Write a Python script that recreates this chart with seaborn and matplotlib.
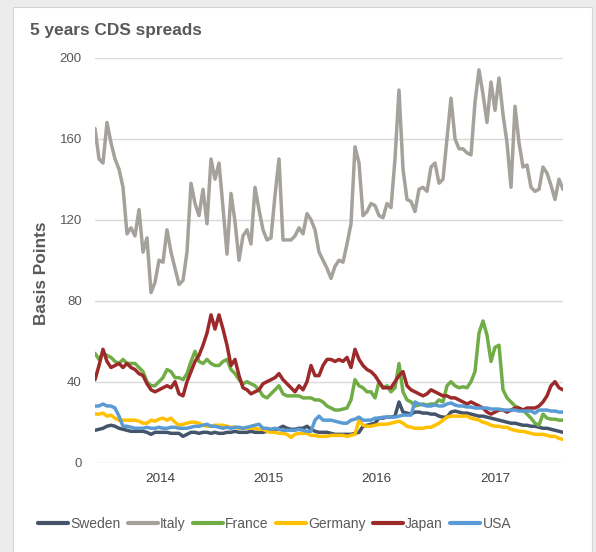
import matplotlib
matplotlib.use("Agg")
import matplotlib.pyplot as plt
from matplotlib.patches import Rectangle
import pandas as pd
import seaborn as sns

# 5-year CDS spreads (basis points), sampled roughly every two weeks, mid-2013 to mid-2017
countries = ["Sweden", "Italy", "France", "Germany", "Japan", "USA"]
line_colors = ["#44546a", "#a5a19b", "#70ad47", "#ffc000", "#9c2a2a", "#5b9bd5"]

sweden = [16, 16.5, 17, 18, 18.5, 18, 17, 16.5, 16, 15.5,
          15.5, 15.5, 15.5, 15, 14, 15, 15, 15, 15, 14.5,
          14.5, 14.5, 13, 14, 15, 15, 14.5, 15, 15, 14.5,
          15, 14.5, 14.5, 15, 15, 15.5, 15, 15, 15, 15.5,
          15, 15, 15, 15.5, 15.5, 16, 17, 18, 17, 16.5,
          16.5, 17, 17, 18, 16.5, 15.5, 15, 15, 15, 14.5,
          14, 14, 14, 14, 14, 14.5, 15, 18, 18.5, 19,
          19.5, 22, 22, 22.5, 22.5, 23, 30, 25, 24.5, 24,
          25, 25, 24.5, 24.5, 24, 24, 23, 22.5, 22.5, 25,
          25.5, 25, 24.5, 24.5, 24, 23.5, 23, 23, 22.5, 22,
          21.5, 21, 20.5, 20, 19.5, 19.5, 19, 18.5, 18.5, 18,
          18, 17.5, 17, 17, 16.5, 16, 15.5, 15]

italy = [165, 150, 148, 168, 158, 150, 145, 136, 113, 116,
         112, 125, 104, 111, 84, 89, 100, 99, 115, 104,
         96, 88, 90, 104, 138, 128, 122, 135, 118, 150,
         140, 148, 126, 103, 133, 119, 100, 112, 115, 108,
         136, 125, 115, 110, 111, 132, 150, 110, 110, 110,
         112, 116, 113, 123, 120, 115, 104, 100, 96, 91,
         97, 100, 99, 108, 118, 156, 148, 122, 124, 128,
         127, 122, 121, 128, 126, 150, 184, 145, 130, 129,
         124, 135, 136, 134, 146, 148, 138, 140, 160, 180,
         160, 155, 155, 153, 152, 178, 194, 182, 168, 188,
         174, 190, 172, 158, 136, 176, 158, 146, 147, 136,
         134, 135, 146, 143, 137, 130, 140, 135]

france = [54, 51, 54, 53, 52, 50, 49, 51, 49, 49,
          49, 47, 45, 40, 38, 38, 40, 42, 46, 45,
          42, 42, 41, 44, 50, 55, 50, 49, 51, 49,
          48, 48, 50, 51, 46, 44, 41, 39, 40, 39,
          38, 36, 33, 32, 34, 36, 38, 34, 33, 33,
          33, 33, 32, 32, 32, 31, 31, 30, 28, 27,
          26, 26, 26.5, 27, 31, 41, 38, 37, 35, 35,
          32, 40, 37, 38, 35, 37, 49, 35, 31, 30,
          28, 28.5, 29, 28.5, 29, 29, 31, 30, 38, 40,
          38, 37, 37.5, 37, 40, 45, 64, 70, 63, 50,
          57, 58, 36, 32, 30, 28, 27, 26, 24, 22,
          19.5, 18.5, 24, 22, 21.5, 21.5, 21, 21]

germany = [24, 24, 24.5, 23, 23.5, 22, 21, 21, 21, 21,
           21, 20.5, 19.5, 19.5, 21, 20.5, 21.5, 22, 21, 22,
           20, 18.5, 19, 19.5, 20, 20, 19.5, 18.5, 18, 18,
           18.5, 18.5, 18.5, 18, 17.5, 17.5, 17, 17, 17, 17,
           17, 16.5, 16.5, 15.5, 15, 15, 14.5, 14.5, 14, 12.5,
           14, 14.5, 14.5, 14.5, 13.5, 13.5, 13, 13, 13, 13.5,
           13.5, 13.5, 13.5, 13, 13.5, 14, 21, 18.5, 18, 18,
           18.5, 19, 19, 19, 19.5, 20, 20.5, 19.5, 18, 17.5,
           17, 17, 17, 17.5, 17.5, 18.5, 19.5, 21, 22.5, 23,
           23, 23, 23, 23, 22, 21.5, 21, 20, 19.5, 18.5,
           18, 18, 17.5, 17.5, 16.5, 16, 15.5, 15.5, 15, 14.5,
           14, 14, 14, 13.5, 13, 13, 12, 11.5]

japan = [41, 48, 56, 50, 47, 48, 49, 47, 49, 47,
         46, 44, 43, 39, 36, 35, 36, 37, 38, 37,
         40, 34, 33, 40, 45, 50, 53, 58, 64, 73,
         66, 73, 66, 58, 48, 51, 43, 37, 36, 34,
         35, 36, 39, 40, 41, 42, 44, 41, 39, 37,
         35, 38, 36, 40, 48, 43, 43, 48, 51, 51,
         50, 51, 50, 52, 47, 56, 51, 48, 46, 45,
         43, 40, 37, 37, 37, 40, 43, 45, 38, 36,
         35, 34, 33, 34, 36, 35, 34, 33, 33, 32,
         32, 31, 30, 29, 30, 29, 28, 27, 25, 24,
         25, 26, 26, 25, 26, 27, 27, 26, 27, 27,
         27, 28, 30, 33, 38, 40, 37, 36]

usa = [28, 28, 29, 28, 28, 27, 23, 18, 18, 17.5,
       17, 17, 17, 17.5, 17, 17, 17.5, 17, 17, 17.5,
       17.5, 17, 17, 17, 17.5, 18, 18, 18.5, 19, 18,
       18, 17.5, 17, 17.5, 17, 17.5, 17.5, 17, 17.5, 18,
       18.5, 19, 17, 17, 16.5, 17, 16.5, 16, 16, 16,
       16, 16.5, 16, 15.5, 15.5, 21, 23, 21, 21, 21,
       20.5, 20, 19.5, 19.5, 21, 21.5, 22.5, 21, 21, 21,
       22, 22, 22.5, 22.5, 22.5, 22.5, 23, 23.5, 23.5, 23.5,
       30, 29, 28.5, 28, 28, 28.5, 28, 28, 29, 29.5,
       28.5, 28, 28, 27.5, 27.5, 27, 27, 27, 27, 26.5,
       26.5, 26.5, 26, 26, 26, 26, 25.5, 25.5, 25.5, 25.5,
       24.5, 26, 26, 26, 25.5, 25.5, 25, 25]

# year labels and the observation index at which each one is placed
year_labels = ["2014", "2015", "2016", "2017"]
year_positions = [16.25, 43.25, 70.25, 100.0]
y_ticks = [0, 40, 80, 120, 160, 200]

series = dict(zip(countries, [sweden, italy, france, germany, japan, usa]))
frames = []
for name, vals in series.items():
    frames.append(pd.DataFrame({"obs": range(len(vals)), "spread": vals, "country": name}))
df = pd.concat(frames, ignore_index=True)

sns.set_theme(style="white")
plt.rcParams["font.family"] = ["Liberation Sans", "DejaVu Sans"]

W, H = 596, 552
fig = plt.figure(figsize=(W / 100, H / 100), dpi=100)
fig.patch.set_facecolor("#ececec")
card = Rectangle((13 / W, -0.01), (592 - 13) / W, 1 - 7 / H + 0.01,
                 transform=fig.transFigure, facecolor="white",
                 edgecolor="#d4d4d4", linewidth=0.8, zorder=-5)
fig.patches.append(card)

ax = fig.add_axes([95 / W, 1 - 462.7 / H, 468 / W, 405 / H])
ax.set_facecolor("white")

sns.lineplot(data=df, x="obs", y="spread", hue="country", hue_order=countries,
             palette=line_colors, linewidth=2.5, ax=ax,
             solid_joinstyle="round", solid_capstyle="round")

ax.set_xlim(0, len(italy) - 1)
ax.set_ylim(0, 200)
ax.set_yticks(y_ticks)
ax.set_xticks(year_positions)
ax.set_xticklabels(year_labels)
ax.set_xlabel("")
ax.set_ylabel("")
for s in ax.spines.values():
    s.set_visible(False)
ax.grid(axis="y", color="#d9d9d9", linewidth=1.0)
ax.grid(axis="x", visible=False)
ax.set_axisbelow(True)
ax.tick_params(axis="y", length=0, pad=9.5, labelsize=9.5, labelcolor="#595959")
ax.tick_params(axis="x", length=0, pad=7.5, labelsize=9.7, labelcolor="#404040")

handles, labels = ax.get_legend_handles_labels()
ax.get_legend().remove()
for h in handles:
    h.set_linewidth(3.0)
fig.legend(handles, labels, loc="center", bbox_to_anchor=(274.5 / W, 1 - 524 / H),
           ncol=6, frameon=False, fontsize=10.0, handlelength=2.15,
           handletextpad=0.15, columnspacing=0.55, labelcolor="#595959")

fig.text(30 / W, 1 - 35 / H, "5 years CDS spreads", ha="left", va="baseline",
         fontsize=12.4, fontweight="bold", color="#595959")
fig.text(41 / W, 1 - 273.5 / H, "Basis Points", rotation=90, ha="center", va="center",
         fontsize=12.4, fontweight="bold", color="#595959")

fig.savefig("out.png", dpi=100, facecolor=fig.get_facecolor())
